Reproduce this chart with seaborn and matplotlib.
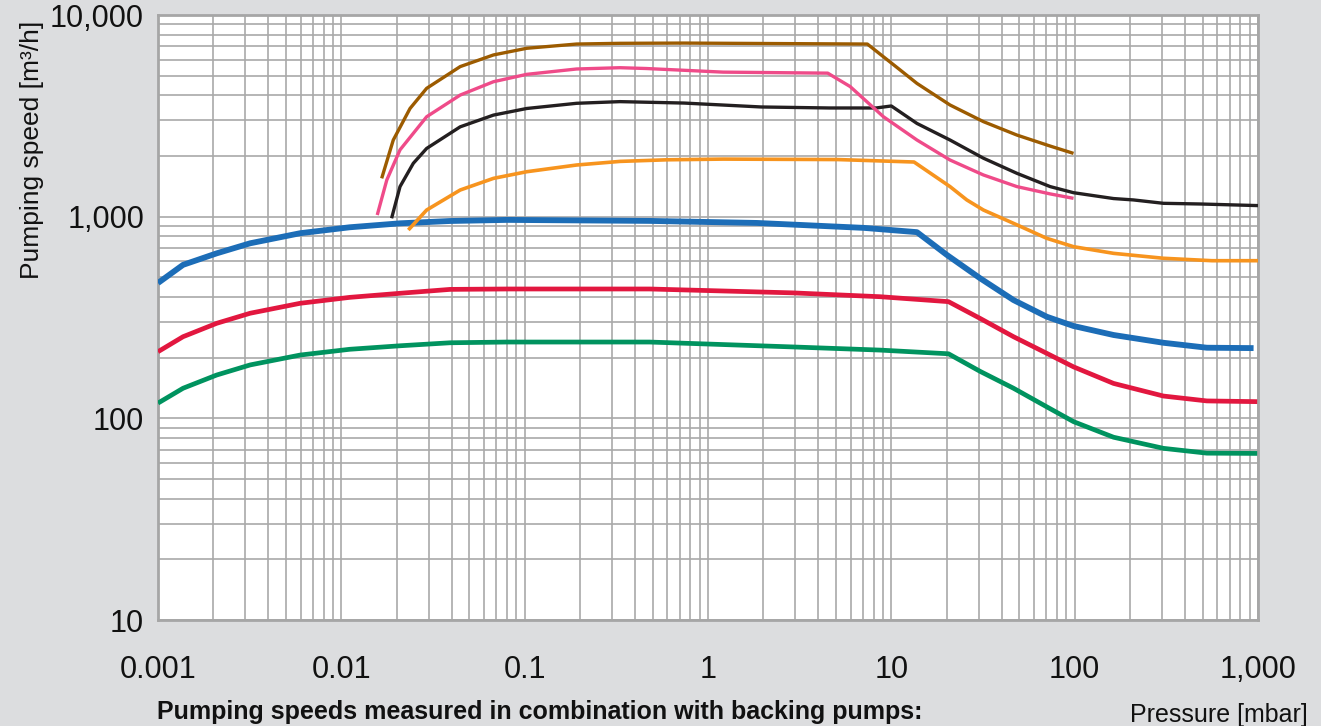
import matplotlib
matplotlib.use("Agg")
import matplotlib.pyplot as plt
import matplotlib.ticker as mticker
import seaborn as sns

# pressures [mbar] and pumping speeds [m3/h]
blue_p = [0.001, 0.00137, 0.00209, 0.00318, 0.00596, 0.0111, 0.0209, 0.0392, 0.08, 0.48, 1.85, 7.1,
          13.8, 20.1, 30.5, 46.4, 70.5, 98.6, 163, 305, 526, 946]
blue_s = [469, 577, 658, 738, 828, 886, 927, 952, 964, 953, 931, 880,
          838, 646, 495, 386, 319, 287, 259, 237, 224, 223]

red_p = [0.001, 0.00137, 0.00209, 0.00318, 0.00596, 0.0111, 0.0209, 0.0392, 0.08, 0.48, 2.9, 8.7,
         20.5, 30.5, 46.4, 70.5, 98.6, 163, 305, 526, 990]
red_s = [214, 254, 296, 332, 372, 398, 417, 436, 438, 438, 419, 401,
         379, 313, 254, 210, 180, 149, 129, 122, 121]

green_p = [0.001, 0.00137, 0.00209, 0.00318, 0.00596, 0.0111, 0.0209, 0.0392, 0.08, 0.48, 2.9, 8.7,
           20.5, 30.5, 46.4, 70.5, 98.6, 163, 305, 526, 990]
green_s = [119, 141, 164, 184, 206, 220, 229, 237, 239, 239, 226, 218,
           209, 171, 141, 114, 96.3, 80.6, 71, 67.2, 67]

brown_p = [0.0166, 0.0192, 0.0237, 0.0292, 0.0445, 0.0676, 0.1026, 0.192, 0.331, 0.74, 7.4,
           11.2, 13.8, 20.9, 31.8, 48.4, 73.5, 98.6]
brown_s = [1549, 2399, 3440, 4330, 5550, 6340, 6840, 7180, 7240, 7260, 7180,
           5330, 4580, 3580, 2960, 2540, 2240, 2060]

pink_p = [0.0157, 0.0177, 0.0209, 0.0292, 0.0445, 0.0676, 0.1026, 0.192, 0.331, 0.46, 1.21, 4.5,
          5.96, 9.06, 13.8, 20.9, 31.8, 48.4, 73.5, 98.6]
pink_s = [1019, 1520, 2145, 3130, 4010, 4670, 5080, 5400, 5480, 5430, 5210, 5150,
          4420, 3130, 2400, 1910, 1610, 1410, 1297, 1233]

black_p = [0.0188, 0.0209, 0.0247, 0.0292, 0.0445, 0.0676, 0.1026, 0.192, 0.331, 0.74, 1.95, 4.6,
           8.26, 10, 13.8, 20.9, 31.8, 48.4, 73.5, 98.6, 163, 209, 305, 484, 1000]
black_s = [982, 1410, 1840, 2180, 2790, 3190, 3440, 3650, 3720, 3660, 3500, 3460,
           3460, 3540, 2900, 2400, 1950, 1641, 1410, 1315, 1230, 1211, 1165, 1156, 1135]

orange_p = [0.0232, 0.0292, 0.0445, 0.0676, 0.1026, 0.192, 0.331, 0.6, 1.21, 5.1, 13.3,
            20.9, 25.8, 31.8, 46.4, 70.5, 98.6, 163, 305, 561, 1000]
orange_s = [859, 1079, 1356, 1549, 1671, 1804, 1880, 1915, 1930, 1920, 1867,
            1410, 1211, 1079, 927, 781, 710, 658, 622, 605, 605]

x_ticks = [0.001, 0.01, 0.1, 1, 10, 100, 1000]
x_labels = ["0.001", "0.01", "0.1", "1", "10", "100", "1,000"]
y_ticks = [10, 100, 1000, 10000]
y_labels = ["10", "100", "1,000", "10,000"]

bg = "#DCDDDF"
grid_col = "#A9A9A9"

sns.set_style("whitegrid")
plt.rcParams['font.family'] = ['Liberation Sans', 'DejaVu Sans']

fig = plt.figure(figsize=(13.21, 7.26), dpi=100, facecolor=bg)
ax = fig.add_axes([0.1196, 0.146, 0.8327, 0.8333])
ax.set_facecolor("white")

series = [
    (green_p, green_s, "#00935F", 3.4),
    (red_p, red_s, "#E2173F", 3.4),
    (blue_p, blue_s, "#1C6DB7", 4.2),
    (orange_p, orange_s, "#F7941E", 2.6),
    (black_p, black_s, "#231F20", 2.4),
    (pink_p, pink_s, "#EF4B89", 2.4),
    (brown_p, brown_s, "#9C5B00", 2.4),
]
for p, s, c, lw in series:
    sns.lineplot(x=p, y=s, color=c, lw=lw, ax=ax, sort=False, estimator=None,
                 solid_capstyle="butt", solid_joinstyle="round", zorder=3)

ax.set_xscale("log")
ax.set_yscale("log")
ax.set_xlim(0.001, 1000)
ax.set_ylim(10, 10000)

ax.set_xticks(x_ticks)
ax.set_xticklabels(x_labels)
ax.set_yticks(y_ticks)
ax.set_yticklabels(y_labels)
ax.xaxis.set_minor_locator(mticker.LogLocator(base=10, subs=range(2, 10), numticks=20))
ax.yaxis.set_minor_locator(mticker.LogLocator(base=10, subs=range(2, 10), numticks=20))
ax.xaxis.set_minor_formatter(mticker.NullFormatter())
ax.yaxis.set_minor_formatter(mticker.NullFormatter())

ax.grid(which="both", color=grid_col, lw=1.2)
ax.tick_params(which="minor", length=0)
ax.tick_params(which="major", length=5, width=1.5, color="#A0A0A0", direction="out",
               labelsize=22, labelcolor="#111111")
ax.tick_params(axis="x", pad=20)
ax.tick_params(axis="y", pad=5)
for sp in ax.spines.values():
    sp.set_color("#A6A6A6")
    sp.set_linewidth(2)

ax.set(xlabel="", ylabel="")
fig.text(0.024, 1 - 150 / 726, "Pumping speed [m³/h]", rotation=90, ha="center", va="center",
         fontsize=19, color="#111111")
fig.text(1308 / 1321, 1 - 703 / 726, "Pressure [mbar]", ha="right", va="top",
         fontsize=18, color="#111111")
fig.text(157 / 1321, 2 / 726, "Pumping speeds measured in combination with backing pumps:",
         ha="left", va="bottom", fontsize=18, fontweight="bold", color="#111111")

fig.savefig("out.png", dpi=100, facecolor=bg)
